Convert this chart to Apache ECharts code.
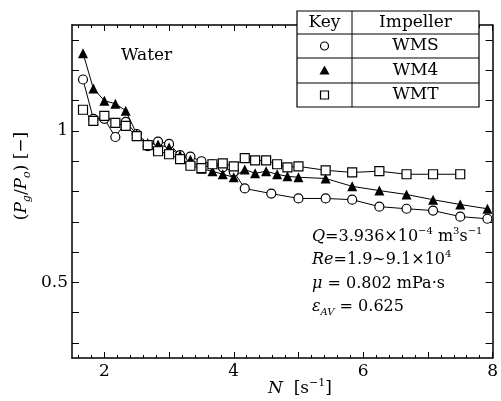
<!DOCTYPE html>
<html>
<head>
<meta charset="utf-8">
<script src="https://cdn.jsdelivr.net/npm/echarts@6/dist/echarts.min.js"></script>
<style>
  html, body { margin: 0; padding: 0; background: #fff; }
  #main { width: 501px; height: 401px; }
</style>
</head>
<body>
<div id="main"></div>
<script>
// impeller speed N [1/s] and gassed power ratio Pg/Po
const N_WMS = [1.67, 1.83, 2.0, 2.17, 2.33, 2.5, 2.67, 2.83, 3.0, 3.17, 3.33, 3.5, 3.67, 3.83, 4.0, 4.17, 4.58, 5.0, 5.42, 5.83, 6.25, 6.67, 7.08, 7.5, 7.92];
const P_WMS = [1.17, 1.04, 1.04, 0.98, 1.03, 0.99, 0.95, 0.965, 0.957, 0.92, 0.915, 0.90, 0.89, 0.88, 0.865, 0.81, 0.793, 0.777, 0.777, 0.773, 0.75, 0.743, 0.737, 0.717, 0.71];

const N_WM4 = [1.67, 1.83, 2.0, 2.17, 2.33, 2.5, 2.67, 2.83, 3.0, 3.17, 3.33, 3.5, 3.67, 3.83, 4.0, 4.17, 4.33, 4.5, 4.67, 4.83, 5.0, 5.42, 5.83, 6.25, 6.67, 7.08, 7.5, 7.92];
const P_WM4 = [1.257, 1.14, 1.10, 1.09, 1.067, 0.99, 0.96, 0.955, 0.945, 0.92, 0.905, 0.875, 0.867, 0.857, 0.847, 0.873, 0.86, 0.867, 0.857, 0.85, 0.847, 0.843, 0.817, 0.803, 0.79, 0.773, 0.757, 0.743];

const N_WMT = [1.67, 1.83, 2.0, 2.17, 2.33, 2.5, 2.67, 2.83, 3.0, 3.17, 3.33, 3.5, 3.67, 3.83, 4.0, 4.17, 4.33, 4.5, 4.67, 4.83, 5.0, 5.42, 5.83, 6.25, 6.67, 7.08, 7.5];
const P_WMT = [1.07, 1.033, 1.05, 1.027, 1.017, 0.983, 0.953, 0.933, 0.923, 0.907, 0.885, 0.877, 0.89, 0.893, 0.883, 0.91, 0.903, 0.903, 0.89, 0.88, 0.883, 0.87, 0.863, 0.867, 0.857, 0.857, 0.857];

// axis ticks
const xTicks = [2, 3, 4, 5, 6, 7, 8];
const xLabels = [2, 4, 6, 8];
const xMinor = [1.6, 1.8, 2.2, 2.4, 2.6, 2.8, 3.2, 3.4, 3.6, 3.8, 4.2, 4.4, 4.6, 4.8, 5.2, 5.4, 5.6, 5.8, 6.2, 6.4, 6.6, 6.8, 7.2, 7.4, 7.6, 7.8];
const yTicks = [0.3, 0.4, 0.5, 0.6, 0.7, 0.8, 0.9, 1.0, 1.1, 1.2, 1.3];
const yLabels = [0.5, 1];

const FONT = 'DejaVu Serif';

function pairs(xs, ys) {
  return xs.map((x, i) => [x, ys[i]]);
}

function xAx(pos, ticks, len, showLine, labels) {
  return {
    type: 'value', position: pos, min: 1.5, max: 8,
    axisLine: { show: showLine, onZero: false, lineStyle: { color: '#000', width: 1.5 } },
    axisTick: { inside: true, length: len, customValues: ticks, lineStyle: { color: '#000', width: 1 } },
    axisLabel: labels ? { customValues: labels, color: '#000', fontFamily: FONT, fontSize: 17, margin: 5 } : { show: false },
    splitLine: { show: false }
  };
}

function yAx(pos, labels) {
  return {
    type: 'value', position: pos, min: 0.25, max: 1.35,
    axisLine: { show: true, onZero: false, lineStyle: { color: '#000', width: 1.5 } },
    axisTick: { inside: true, length: 7, customValues: yTicks, lineStyle: { color: '#000', width: 1 } },
    axisLabel: labels ? { customValues: labels, color: '#000', fontFamily: FONT, fontSize: 17, margin: 4 } : { show: false },
    splitLine: { show: false }
  };
}

function makeRich(size) {
  const small = Math.round(size * 0.65);
  return {
    n: { fontFamily: FONT, fontSize: size, color: '#000', lineHeight: size + 5 },
    i: { fontFamily: FONT, fontSize: size, fontStyle: 'italic', color: '#000', lineHeight: size + 5 },
    sup: { fontFamily: FONT, fontSize: small, color: '#000', verticalAlign: 'top', lineHeight: small + 1 },
    sub: { fontFamily: FONT, fontSize: small, fontStyle: 'italic', color: '#000', verticalAlign: 'bottom', lineHeight: small + 1 }
  };
}

function txt(x, y, text, align, size) {
  return {
    type: 'text', x: x, y: y, z: 100,
    style: { text: text, rich: makeRich(size || 17), align: align || 'left', verticalAlign: 'middle', fill: '#000' }
  };
}

const chart = echarts.init(document.getElementById('main'), null, { renderer: 'canvas' });

const tableLeft = 297, tableRight = 479, tableSep = 352;
const rowY = [11, 34, 58, 83, 107];
const keyX = (tableLeft + tableSep) / 2, nameX = (tableSep + tableRight) / 2;

const option = {
  backgroundColor: '#fff',
  animation: false,
  grid: { left: 72, right: 8, top: 25, bottom: 43, containLabel: false },
  xAxis: [
    xAx('bottom', xTicks, 6, true, xLabels),
    xAx('top', xTicks, 6, true, null),
    xAx('bottom', xMinor, 3, false, null),
    xAx('top', xMinor, 3, false, null)
  ],
  yAxis: [
    yAx('left', yLabels),
    yAx('right', null)
  ],
  series: [
    {
      name: 'WMS', type: 'line', data: pairs(N_WMS, P_WMS),
      symbol: 'circle', symbolSize: 9,
      lineStyle: { color: '#000', width: 1 },
      itemStyle: { color: '#fff', borderColor: '#000', borderWidth: 1.2 }
    },
    {
      name: 'WM4', type: 'line', data: pairs(N_WM4, P_WM4),
      symbol: 'triangle', symbolSize: 10,
      lineStyle: { color: '#000', width: 1 },
      itemStyle: { color: '#000', borderColor: '#000', borderWidth: 0 }
    },
    {
      name: 'WMT', type: 'line', data: pairs(N_WMT, P_WMT),
      symbol: 'rect', symbolSize: 9,
      lineStyle: { color: '#000', width: 1 },
      itemStyle: { color: '#fff', borderColor: '#000', borderWidth: 1.2 }
    }
  ],
  graphic: [
    // key table
    { type: 'rect', z: 90, shape: { x: tableLeft, y: rowY[0], width: tableRight - tableLeft, height: rowY[4] - rowY[0] },
      style: { fill: '#fff', stroke: '#000', lineWidth: 1.2 } },
    { type: 'line', z: 91, shape: { x1: tableSep, y1: rowY[0], x2: tableSep, y2: rowY[4] }, style: { stroke: '#000', lineWidth: 1 } },
    { type: 'line', z: 91, shape: { x1: tableLeft, y1: rowY[1], x2: tableRight, y2: rowY[1] }, style: { stroke: '#000', lineWidth: 1 } },
    { type: 'line', z: 91, shape: { x1: tableLeft, y1: rowY[2], x2: tableRight, y2: rowY[2] }, style: { stroke: '#000', lineWidth: 1 } },
    { type: 'line', z: 91, shape: { x1: tableLeft, y1: rowY[3], x2: tableRight, y2: rowY[3] }, style: { stroke: '#000', lineWidth: 1 } },
    txt(keyX, (rowY[0] + rowY[1]) / 2, '{n|Key}', 'center'),
    txt(nameX, (rowY[0] + rowY[1]) / 2, '{n|Impeller}', 'center'),
    txt(nameX, (rowY[1] + rowY[2]) / 2, '{n|WMS}', 'center'),
    txt(nameX, (rowY[2] + rowY[3]) / 2, '{n|WM4}', 'center'),
    txt(nameX, (rowY[3] + rowY[4]) / 2, '{n|WMT}', 'center'),
    { type: 'circle', z: 92, shape: { cx: keyX, cy: (rowY[1] + rowY[2]) / 2, r: 4 }, style: { fill: '#fff', stroke: '#000', lineWidth: 1.2 } },
    { type: 'polygon', z: 92, shape: { points: [[keyX, (rowY[2] + rowY[3]) / 2 - 5], [keyX + 5, (rowY[2] + rowY[3]) / 2 + 4], [keyX - 5, (rowY[2] + rowY[3]) / 2 + 4]] }, style: { fill: '#000' } },
    { type: 'rect', z: 92, shape: { x: keyX - 4, y: (rowY[3] + rowY[4]) / 2 - 4, width: 8, height: 8 }, style: { fill: '#fff', stroke: '#000', lineWidth: 1.2 } },
    // fluid
    txt(121, 56, '{n|Water}', 'left'),
    // conditions
    txt(312, 237, '{i|Q}{n|=3.936×10}{sup|−4}{n| m}{sup|3}{n|s}{sup|−1}', 'left', 16),
    txt(312, 260, '{i|Re}{n|=1.9∼9.1×10}{sup|4}', 'left', 16),
    txt(312, 284, '{i|μ}{n| = 0.802 mPa·s}', 'left', 16),
    txt(312, 307, '{i|ε}{sub|AV}{n| = 0.625}', 'left', 16),
    // axis names
    txt(300, 389, '{i|N}{n|  [s}{sup|−1}{n|]}', 'center'),
    Object.assign(txt(22, 176, '{n|(}{i|P}{sub|g}{n|/}{i|P}{sub|o}{n|) [−]}', 'center'), { rotation: Math.PI / 2 })
  ]
};

chart.setOption(option);
</script>
</body>
</html>
